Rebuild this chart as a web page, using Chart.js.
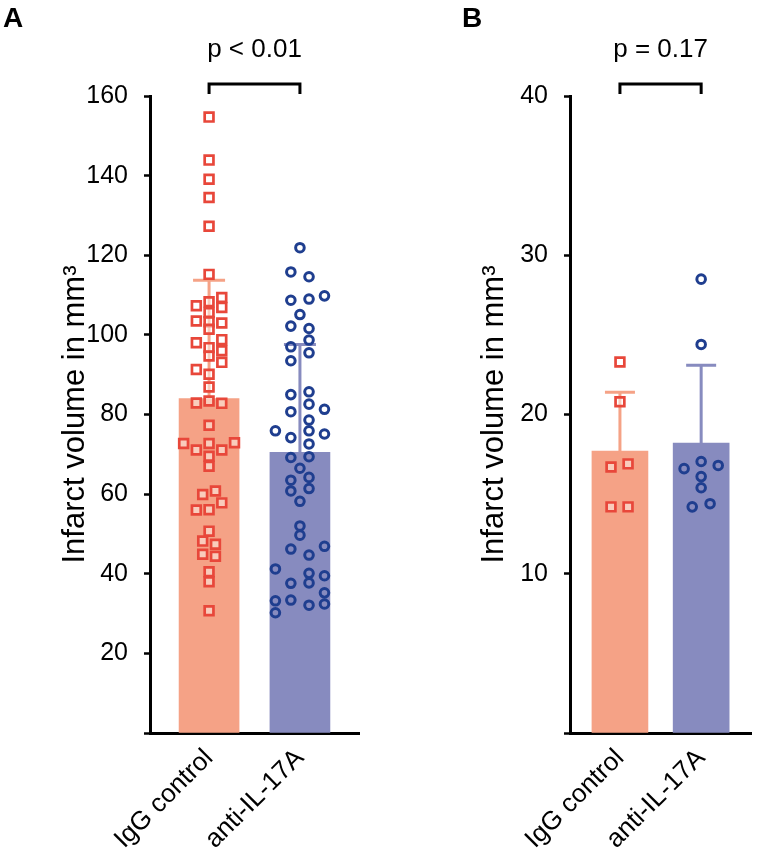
<!DOCTYPE html>
<html>
<head>
<meta charset="utf-8">
<script src="https://cdn.jsdelivr.net/npm/chart.js@4.4.1/dist/chart.umd.min.js"></script>
<style>
  body { margin: 0; background: #fff; }
  #wrap { position: relative; width: 760px; height: 860px; font-family: 'Liberation Sans', Arial, Helvetica, sans-serif; }
  #wrap canvas { position: absolute; top: 0; }
  .panel { position: absolute; top: 2px; font-size: 28px; line-height: 32px; font-weight: bold; color: #000; }
</style>
</head>
<body>
<div id="wrap">
  <canvas id="chartA" width="380" height="860" style="left:0"></canvas>
  <canvas id="chartB" width="380" height="860" style="left:380px"></canvas>
  <div class="panel" style="left:3px">A</div>
  <div class="panel" style="left:462px">B</div>
</div>
<script>
// categories on the x axis
const categories = ['IgG control', 'anti-IL-17A'];

// Panel A: group mean and SD (mm3)
const meanA = [84.0, 70.5];
const sdA = [29.7, 27.1];
const pTextA = 'p < 0.01';

// Panel A: single animals, IgG control
const iggA = [154.7, 143.9, 139.1, 134.5, 127.3, 115.2, 109.4, 108.3, 107.3, 106.9,
  105.6, 103.5, 103.3, 103.0, 101.4, 98.8, 98.0, 96.8, 96.0, 94.7,
  93.1, 91.3, 90.1, 86.9, 83.4, 82.9, 82.8, 77.3, 72.7, 71.1,
  72.7, 71.1, 72.9, 69.5, 67.0, 60.8, 59.9, 57.8, 56.0, 56.1,
  50.7, 48.2, 47.4, 44.9, 44.4, 40.5, 38.0, 30.7];
// horizontal spread of the dots (category units)
const iggAJitter = [0, 0, 0, 0, 0, 0, 0.14, 0, -0.14, 0.14,
  0, -0.14, 0, 0.14, 0, 0.14, -0.14, 0, 0.14, 0,
  0.14, -0.14, 0, 0, 0, -0.14, 0.14, 0, -0.28, -0.14,
  0, 0.14, 0.28, 0, 0, 0.07, -0.07, 0.14, -0.14, 0,
  0, -0.07, 0.07, -0.07, 0.07, 0, 0, 0];

// Panel A: single animals, anti-IL-17A
const antiA = [121.9, 115.8, 114.6, 108.7, 109.0, 109.8, 105.1, 102.2, 101.6, 98.7,
  97.0, 95.5, 93.5, 85.0, 85.7, 80.7, 82.6, 81.3, 78.6, 75.9,
  74.2, 75.9, 75.1, 72.6, 69.2, 69.4, 66.5, 63.5, 64.2, 60.8,
  61.4, 58.2, 52.0, 49.7, 46.2, 46.9, 44.7, 41.2, 40.1, 37.7,
  37.6, 39.5, 35.2, 33.4, 33.2, 32.1, 32.4, 30.2];
const antiAJitter = [0, -0.1, 0.1, -0.1, 0.1, 0.27, 0, -0.1, 0.1, 0.1,
  -0.1, 0.1, -0.1, -0.1, 0.1, -0.1, 0.1, 0.27, 0.1, -0.27,
  -0.1, 0.1, 0.27, 0.1, -0.1, 0.1, 0, -0.1, 0.1, -0.1,
  0.1, 0, 0, 0, -0.1, 0.27, 0.1, -0.27, 0.1, 0.1,
  -0.1, 0.27, 0.27, -0.1, -0.27, 0.1, 0.27, -0.27];

// Panel B
const meanB = [17.7, 18.2];
const sdB = [3.7, 4.9];
const pTextB = 'p = 0.17';
const iggB = [23.3, 20.8, 16.9, 16.7, 14.2, 14.2];
const iggBJitter = [0, 0, 0.1, -0.11, -0.11, 0.1];
const antiB = [28.5, 24.4, 17.05, 16.6, 16.8, 16.1, 15.4, 14.2, 14.4];
const antiBJitter = [0, 0, 0, -0.21, 0.21, 0, 0, -0.11, 0.11];

const barColors = ['#f5a286', '#878bbf'];
const errColors = ['#f5a286', '#878bbf'];
const red = '#e8473a';
const navy = '#1f3e8f';

Chart.defaults.font.family = "'Liberation Sans', Arial, Helvetica, sans-serif";
Chart.defaults.color = '#000';

// error bars (up only) drawn right after the bars, and the p-value bracket on top
function extras(means, sds, pText, capW) {
  return {
    id: 'extras',
    afterDatasetDraw(chart, args) {
      if (args.index !== 0) return;
      const ctx = chart.ctx, xs = chart.scales.x, ys = chart.scales.y;
      ctx.save();
      ctx.lineWidth = 3;
      means.forEach((m, i) => {
        const x = xs.getPixelForValue(i);
        const yM = ys.getPixelForValue(m);
        const yT = ys.getPixelForValue(m + sds[i]);
        ctx.strokeStyle = errColors[i];
        ctx.beginPath();
        ctx.moveTo(x, yM);
        ctx.lineTo(x, yT);
        ctx.moveTo(x - capW / 2, yT);
        ctx.lineTo(x + capW / 2, yT);
        ctx.stroke();
      });
      ctx.restore();
    },
    afterDraw(chart) {
      const ctx = chart.ctx, xs = chart.scales.x, ys = chart.scales.y;
      const x0 = xs.getPixelForValue(0), x1 = xs.getPixelForValue(1);
      const top = ys.getPixelForValue(ys.max);
      const yb = top - 12;
      ctx.save();
      ctx.strokeStyle = '#000';
      ctx.lineWidth = 3;
      ctx.beginPath();
      ctx.moveTo(x0, yb + 10);
      ctx.lineTo(x0, yb);
      ctx.lineTo(x1, yb);
      ctx.lineTo(x1, yb + 10);
      ctx.stroke();
      ctx.fillStyle = '#000';
      ctx.font = "26px 'Liberation Sans', Arial, sans-serif";
      ctx.textAlign = 'center';
      ctx.textBaseline = 'alphabetic';
      ctx.fillText(pText, (x0 + x1) / 2, top - 39);
      ctx.restore();
    }
  };
}

function panel(id, o) {
  return new Chart(document.getElementById(id), {
    data: {
      datasets: [{
        type: 'bar',
        data: o.means.map((m, i) => ({ x: i, y: m })),
        backgroundColor: barColors,
        barThickness: o.barW,
        order: 3
      }, {
        type: 'scatter',
        data: o.igg.map((v, i) => ({ x: 0 + o.iggJit[i], y: v })),
        pointStyle: 'rect',
        radius: 6.2,
        borderWidth: 2.7,
        borderColor: red,
        backgroundColor: 'rgba(255,255,255,0.45)',
        clip: false,
        order: 1
      }, {
        type: 'scatter',
        data: o.anti.map((v, i) => ({ x: 1 + o.antiJit[i], y: v })),
        pointStyle: 'circle',
        radius: 4.3,
        borderWidth: 3,
        borderColor: navy,
        backgroundColor: 'rgba(0,0,0,0)',
        clip: false,
        order: 1
      }]
    },
    options: {
      responsive: false,
      animation: false,
      events: [],
      layout: { padding: { left: o.padL, right: o.padR, top: 96, bottom: 0 } },
      plugins: { legend: { display: false }, tooltip: { enabled: false } },
      scales: {
        x: {
          type: 'linear',
          offset: false,
          min: -o.side,
          max: 1 + o.side,
          afterBuildTicks: s => { s.ticks = categories.map((c, i) => ({ value: i })); },
          afterFit: s => { s.height = 127; },
          grid: { display: false, drawTicks: false, offset: false },
          border: { color: '#000', width: 3 },
          ticks: {
            autoSkip: false, minRotation: 45, maxRotation: 45, padding: 10,
            color: '#000', font: { size: 26 },
            callback: v => categories[v]
          }
        },
        y: {
          min: 0,
          max: o.max,
          afterFit: s => { s.width = o.yW; },
          grid: { drawOnChartArea: false, tickLength: 6, tickWidth: 2.5, tickColor: '#000' },
          border: { color: '#000', width: 3 },
          ticks: {
            stepSize: o.step, padding: 16, color: '#000', font: { size: 25 },
            callback: v => v === 0 ? '' : v
          },
          title: { display: true, text: 'Infarct volume in mm³', color: '#000', font: { size: 31 }, padding: 0 }
        }
      }
    },
    plugins: [extras(o.means, o.sds, o.pText, o.capW)]
  });
}

const chartA = panel('chartA', {
  means: meanA, sds: sdA, pText: pTextA,
  igg: iggA, iggJit: iggAJitter, anti: antiA, antiJit: antiAJitter,
  max: 160, step: 20, side: 0.65, padL: 57, yW: 93, padR: 21, barW: 60, capW: 32
});

const chartB = panel('chartB', {
  means: meanB, sds: sdB, pText: pTextB,
  igg: iggB, iggJit: iggBJitter, anti: antiB, antiJit: antiBJitter,
  max: 40, step: 10, side: 0.615, padL: 96, yW: 94, padR: 3, barW: 56, capW: 30
});
</script>
</body>
</html>
